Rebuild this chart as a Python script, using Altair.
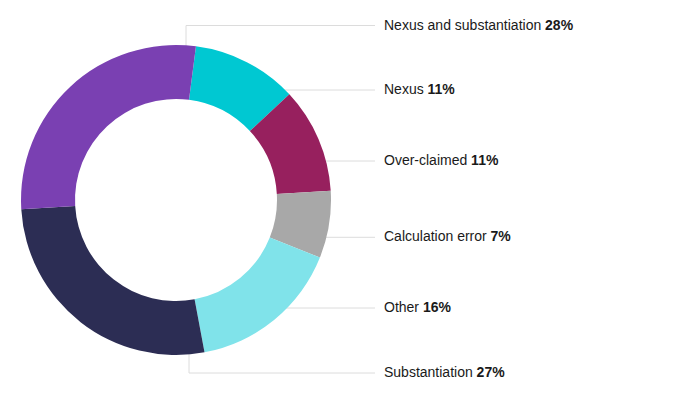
import math
import altair as alt
import pandas as pd

# ---- data ----
categories = ["Nexus", "Over-claimed", "Calculation error", "Other",
              "Substantiation", "Nexus and substantiation"]
values = [11, 11, 7, 16, 27, 28]
colors = ["#00C8D2", "#97205E", "#A8A8A8", "#80E3EA", "#2C2D54", "#7A40B2"]

# label order (top to bottom) and layout
label_order = ["Nexus and substantiation", "Nexus", "Over-claimed",
               "Calculation error", "Other", "Substantiation"]
LABEL_Y = [17.5, 82, 153, 229.3, 300, 365]   # chart px
CX, CY = 168, 192
R_OUT, R_IN = 155, 101
START = math.radians(7.4)
TEXT_X = 376
LINE_END = 367
FONT = "Liberation Sans"
FS = 14

# Arial/Liberation Sans regular advance widths (per 1000 em)
W = {' ': 278, '-': 333, 'C': 722, 'E': 667, 'N': 722, 'O': 778, 'S': 667,
     'a': 556, 'b': 556, 'c': 500, 'd': 556, 'e': 556, 'h': 556, 'i': 222,
     'l': 222, 'm': 833, 'n': 556, 'o': 556, 'r': 333, 's': 500, 't': 278,
     'u': 556, 'v': 500, 'x': 500}


def text_width(s):
    return sum(W.get(c, 556) for c in s) * FS / 1000.0


df = pd.DataFrame({"category": categories, "value": values,
                   "order": list(range(len(categories)))})

val_map = dict(zip(categories, values))
lab = pd.DataFrame({
    "category": label_order,
    "y": LABEL_Y,
})
lab["pct"] = [f"{val_map[c]}%" for c in label_order]
lab["x"] = TEXT_X
lab["px"] = [TEXT_X + text_width(c + " ") for c in label_order]

# leader lines (start just inside the ring's outer edge, hidden by the arc)
segs = []
for c, y in zip(label_order, LABEL_Y):
    if c == "Nexus and substantiation":
        segs.append(dict(x=178, x2=LINE_END, y=y, y2=y))
        segs.append(dict(x=178, x2=178, y=y, y2=CY - R_OUT + 12))
    elif c == "Substantiation":
        segs.append(dict(x=181, x2=LINE_END, y=y, y2=y))
        segs.append(dict(x=181, x2=181, y=CY + R_OUT - 12, y2=y))
    else:
        edge = CX + math.sqrt(max(R_OUT ** 2 - (y - CY) ** 2, 0)) - 10
        segs.append(dict(x=edge, x2=LINE_END, y=y, y2=y))
seg_df = pd.DataFrame(segs)

rules = alt.Chart(seg_df).mark_rule(color="#DCDCDC", strokeWidth=1).encode(
    x=alt.X("x:Q", scale=None), x2="x2:Q",
    y=alt.Y("y:Q", scale=None), y2="y2:Q",
)

arcs = alt.Chart(df).mark_arc(outerRadius=R_OUT, innerRadius=R_IN).encode(
    theta=alt.Theta("value:Q", stack=True,
                    scale=alt.Scale(range=[START, START + 2 * math.pi])),
    color=alt.Color("category:N", scale=alt.Scale(domain=categories, range=colors),
                    legend=None),
    order=alt.Order("order:Q"),
    x=alt.value(CX), y=alt.value(CY),
)

names = alt.Chart(lab).mark_text(align="left", baseline="middle", font=FONT,
                                 fontSize=FS, color="#1A1A1A").encode(
    x=alt.X("x:Q", scale=None), y=alt.Y("y:Q", scale=None), text="category:N")

pcts = alt.Chart(lab).mark_text(align="left", baseline="middle", font=FONT,
                                fontSize=FS, fontWeight="bold", color="#1A1A1A").encode(
    x=alt.X("px:Q", scale=None), y=alt.Y("y:Q", scale=None), text="pct:N")

chart = alt.layer(rules, arcs, names, pcts).properties(
    width=674, height=379, padding=0,
    autosize=alt.AutoSizeParams(type="none"),
).configure_view(stroke=None)

chart.save("out.html", embed_options={"renderer": "svg", "actions": False})
